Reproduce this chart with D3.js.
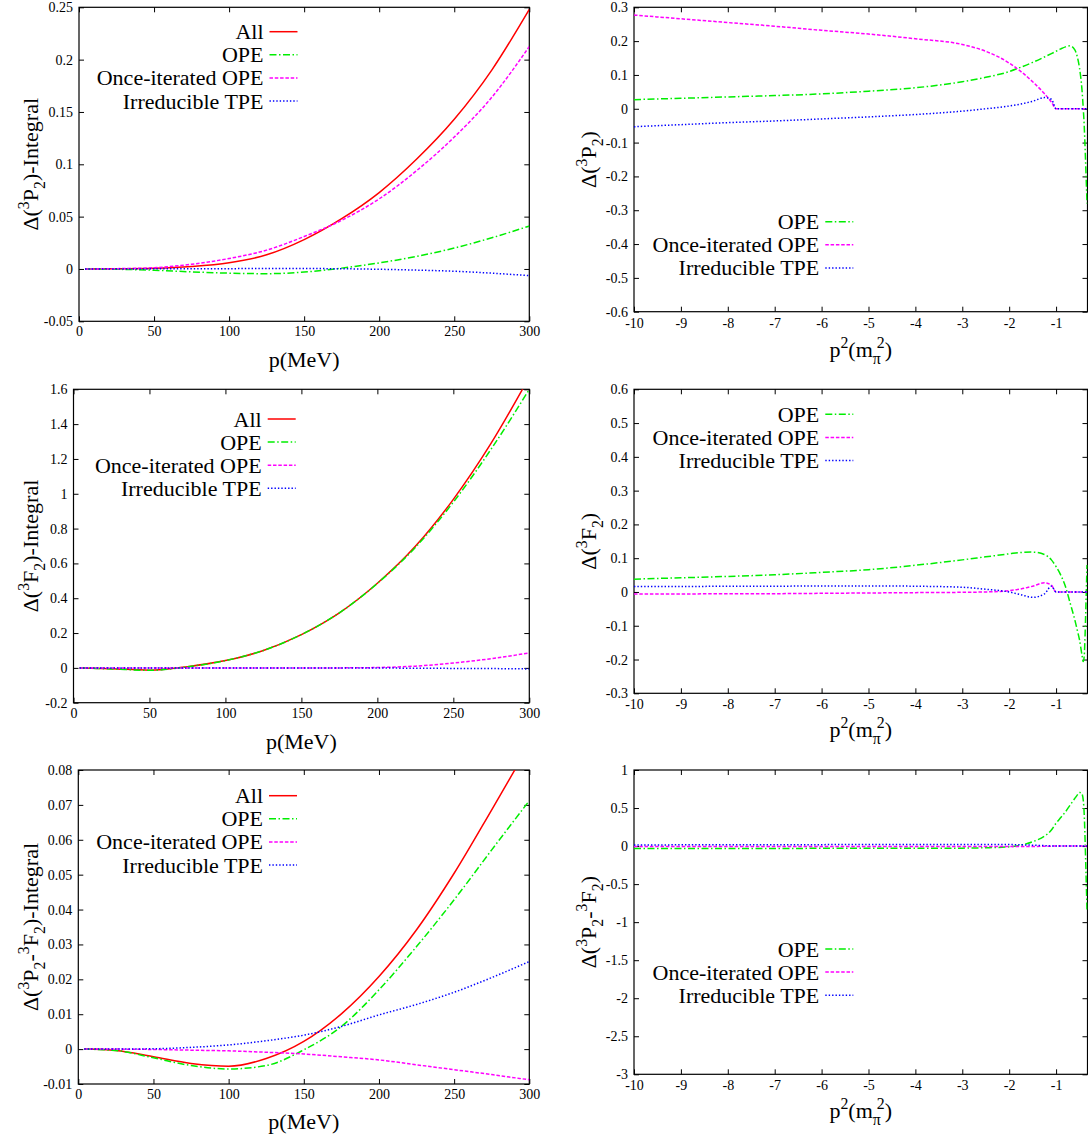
<!DOCTYPE html>
<html><head><meta charset="utf-8">
<script src="https://cdn.jsdelivr.net/npm/d3@7"></script>
<style>
body{margin:0;background:#fff;}
svg{display:block;}
svg text{font-family:"Liberation Serif","Times New Roman",Times,serif;}
</style></head><body>
<svg id="chart" width="1088" height="1142" font-family="Liberation Serif, Times New Roman, serif"></svg>
<script>
// ---------- DATA ----------
const pGrid = [4, 25, 50, 75, 100, 125, 150, 175, 200, 225, 250, 275, 300];
// Δ(3P2)-Integral
const p2IntAll  = [0, 0.0002, 0.0007, 0.0024, 0.0060, 0.0135, 0.0280, 0.0480, 0.0730, 0.1050, 0.1430, 0.1900, 0.2480];
const p2IntOPE  = [0, -0.0003, -0.0012, -0.0028, -0.0040, -0.0045, -0.0030, 0.0008, 0.0058, 0.0120, 0.0200, 0.0298, 0.0410];
const p2IntOnce = [0, 0.0003, 0.0012, 0.0045, 0.0100, 0.0180, 0.0310, 0.0465, 0.0670, 0.0940, 0.1260, 0.1640, 0.2125];
const p2IntIrr  = [0, 0, 0.0001, 0.0002, 0.0003, 0.0004, 0.0004, 0.0002, -0.0003, -0.0011, -0.0022, -0.0040, -0.0064];
// Δ(3F2)-Integral
const f2IntAll  = [0, -0.005, -0.013, 0.007, 0.042, 0.100, 0.191, 0.316, 0.486, 0.698, 0.968, 1.292, 1.670];
const f2IntOPE  = [0, -0.006, -0.014, 0.006, 0.042, 0.100, 0.191, 0.316, 0.485, 0.692, 0.952, 1.258, 1.600];
const f2IntOnce = [0, 0, -0.001, -0.001, -0.001, -0.001, 0, 0, 0.002, 0.010, 0.028, 0.053, 0.086];
const f2IntIrr  = [0, 0, 0, 0, 0, 0, -0.001, -0.001, -0.001, -0.002, -0.003, -0.004, -0.006];
// Δ(3P2-3F2)-Integral
const mixIntAll  = [0, -0.0004, -0.0022, -0.0041, -0.0049, -0.0027, 0.0022, 0.0101, 0.0208, 0.0342, 0.0504, 0.0686, 0.0872];
const mixIntOPE  = [0, -0.0004, -0.0025, -0.0047, -0.0057, -0.0047, -0.0002, 0.0065, 0.0170, 0.0294, 0.0428, 0.0571, 0.0712];
const mixIntOnce = [0, 0, -0.0001, -0.0003, -0.0005, -0.0009, -0.0014, -0.0022, -0.0031, -0.0045, -0.0059, -0.0073, -0.0088];
const mixIntIrr  = [0, 0, 0.0001, 0.0005, 0.0012, 0.0024, 0.0040, 0.0065, 0.0098, 0.0128, 0.0163, 0.0205, 0.0251];

const tGrid = [-10, -9, -8, -7, -6, -5, -4, -3, -2.5, -2, -1.75, -1.5, -1.25, -1.1, -1, -0.9, -0.8, -0.7, -0.6, -0.55, -0.5, -0.45, -0.42, -0.4, -0.38, -0.36, -0.34];
// Δ(3P2)
const p2OPE  = [0.027, 0.031, 0.035, 0.039, 0.044, 0.052, 0.062, 0.080, 0.093, 0.110, 0.123, 0.137, 0.153, 0.163, 0.170, 0.177, 0.183, 0.186, 0.174, 0.155, 0.120, 0.060, 0.000, -0.050, -0.120, -0.200, -0.280];
const p2Once = [0.277, 0.266, 0.255, 0.244, 0.232, 0.221, 0.207, 0.190, 0.170, 0.135, 0.110, 0.080, 0.045, 0.020, 0, 0, 0, 0, 0, 0, 0, 0, 0, 0, 0, 0, 0];
const p2Irr  = [-0.053, -0.047, -0.041, -0.036, -0.030, -0.024, -0.017, -0.007, 0.000, 0.008, 0.014, 0.022, 0.033, 0.028, 0, 0, 0, 0, 0, 0, 0, 0, 0, 0, 0, 0, 0];
// Δ(3F2)
const f2OPE  = [0.038, 0.042, 0.046, 0.051, 0.058, 0.066, 0.079, 0.095, 0.104, 0.113, 0.117, 0.118, 0.111, 0.095, 0.075, 0.050, 0.016, -0.033, -0.083, -0.112, -0.142, -0.185, -0.206, -0.190, -0.120, -0.020, 0.080];
const f2Once = [-0.006, -0.006, -0.005, -0.005, -0.004, -0.003, -0.002, -0.001, 0.000, 0.004, 0.009, 0.017, 0.027, 0.020, 0, 0, 0, 0, 0, 0, 0, 0, 0, 0, 0, 0, 0];
const f2Irr  = [0.016, 0.016, 0.017, 0.017, 0.018, 0.018, 0.017, 0.014, 0.008, 0.000, -0.008, -0.016, -0.006, 0.017, 0, 0, 0, 0, 0, 0, 0, 0, 0, 0, 0, 0, 0];
// Δ(3P2-3F2)
const mixOPE  = [-0.032, -0.032, -0.031, -0.031, -0.030, -0.030, -0.029, -0.027, -0.022, -0.010, 0.012, 0.057, 0.130, 0.210, 0.300, 0.375, 0.450, 0.540, 0.627, 0.670, 0.705, 0.690, 0.600, 0.420, 0.050, -0.400, -0.850];
const mixOnce = [-0.004, -0.004, -0.004, -0.004, -0.004, -0.004, -0.004, -0.004, -0.005, -0.006, -0.006, -0.005, -0.003, -0.001, 0, 0, 0, 0, 0, 0, 0, 0, 0, 0, 0, 0, 0];
const mixIrr  = [0.015, 0.016, 0.017, 0.018, 0.019, 0.020, 0.021, 0.022, 0.022, 0.020, 0.017, 0.012, 0.006, 0.002, 0, 0, 0, 0, 0, 0, 0, 0, 0, 0, 0, 0, 0];

// ticks
const xTicksP = [0, 50, 100, 150, 200, 250, 300];
const xTicksT = [-10, -9, -8, -7, -6, -5, -4, -3, -2, -1];
const yTicksP2Int = [-0.05, 0, 0.05, 0.1, 0.15, 0.2, 0.25];
const yTicksF2Int = [-0.2, 0, 0.2, 0.4, 0.6, 0.8, 1, 1.2, 1.4, 1.6];
const yTicksMixInt = [-0.01, 0, 0.01, 0.02, 0.03, 0.04, 0.05, 0.06, 0.07, 0.08];
const yTicksP2 = [-0.6, -0.5, -0.4, -0.3, -0.2, -0.1, 0, 0.1, 0.2, 0.3];
const yTicksF2 = [-0.3, -0.2, -0.1, 0, 0.1, 0.2, 0.3, 0.4, 0.5, 0.6];
const yTicksMix = [-3, -2.5, -2, -1.5, -1, -0.5, 0, 0.5, 1];

const legendNames = {All: "All", OPE: "OPE", Once: "Once-iterated OPE", Irr: "Irreducible TPE"};

// ---------- STYLE / LAYOUT ----------
const FONT = "Liberation Serif, Times New Roman, Times, serif";
const styles = {
  All:  {color: "#ff0000", dash: null},
  OPE:  {color: "#00ee00", dash: "7,2.5,1.5,2.5"},
  Once: {color: "#ff00ff", dash: "3.5,1.8"},
  Irr:  {color: "#0000ff", dash: "1.4,2"}
};

const labP2Int = [["Δ(", "n"], ["3", "sup"], ["P", "n"], ["2", "sub"], [")-Integral", "n"]];
const labF2Int = [["Δ(", "n"], ["3", "sup"], ["F", "n"], ["2", "sub"], [")-Integral", "n"]];
const labMixInt = [["Δ(", "n"], ["3", "sup"], ["P", "n"], ["2", "sub"], ["-", "n"], ["3", "sup"], ["F", "n"], ["2", "sub"], [")-Integral", "n"]];
const labP2 = [["Δ(", "n"], ["3", "sup"], ["P", "n"], ["2", "sub"], [")", "n"]];
const labF2 = [["Δ(", "n"], ["3", "sup"], ["F", "n"], ["2", "sub"], [")", "n"]];
const labMix = [["Δ(", "n"], ["3", "sup"], ["P", "n"], ["2", "sub"], ["-", "n"], ["3", "sup"], ["F", "n"], ["2", "sub"], [")", "n"]];
const labXP = [["p(MeV)", "n"]];
const labXT = [["p", "n"], ["2", "sup"], ["(m", "n"], ["π", "sub"], ["2", "sup", -4], [")", "n"]];

const panels = [
  {left: 79, right: 529.3, top: 7.3, bottom: 321.3, xDom: [0, 300], yDom: [-0.05, 0.25], xTicks: xTicksP, yTicks: yTicksP2Int, xs: pGrid,
   series: [["All", p2IntAll], ["OPE", p2IntOPE], ["Once", p2IntOnce], ["Irr", p2IntIrr]], legX: 263.5, legY: 31.7,
   ylab: labP2Int, ylabX: 38, xlab: labXP, xlabY: 367, padX: 5},
  {left: 73.5, right: 529.3, top: 389.3, bottom: 702.7, xDom: [0, 300], yDom: [-0.2, 1.6], xTicks: xTicksP, yTicks: yTicksF2Int, xs: pGrid,
   series: [["All", f2IntAll], ["OPE", f2IntOPE], ["Once", f2IntOnce], ["Irr", f2IntIrr]], legX: 261.7, legY: 419,
   ylab: labF2Int, ylabX: 38, xlab: labXP, xlabY: 749, padX: 5},
  {left: 78.3, right: 529.3, top: 770, bottom: 1084, xDom: [0, 300], yDom: [-0.01, 0.08], xTicks: xTicksP, yTicks: yTicksMixInt, xs: pGrid,
   series: [["All", mixIntAll], ["OPE", mixIntOPE], ["Once", mixIntOnce], ["Irr", mixIntIrr]], legX: 263, legY: 795.7,
   ylab: labMixInt, ylabX: 38, xlab: labXP, xlabY: 1129, padX: 5},
  {left: 634, right: 1087.5, top: 7.3, bottom: 311.7, xDom: [-10, -0.33], yDom: [-0.6, 0.3], xTicks: xTicksT, yTicks: yTicksP2, xs: tGrid,
   series: [["OPE", p2OPE], ["Once", p2Once], ["Irr", p2Irr]], legX: 819.3, legY: 221.7,
   ylab: labP2, ylabX: 596, xlab: labXT, xlabY: 357, padX: 6},
  {left: 634, right: 1087.5, top: 389.3, bottom: 693.3, xDom: [-10, -0.33], yDom: [-0.3, 0.6], xTicks: xTicksT, yTicks: yTicksF2, xs: tGrid,
   series: [["OPE", f2OPE], ["Once", f2Once], ["Irr", f2Irr]], legX: 819.3, legY: 414.3,
   ylab: labF2, ylabX: 596, xlab: labXT, xlabY: 737, padX: 6},
  {left: 634, right: 1087.5, top: 770, bottom: 1074.3, xDom: [-10, -0.33], yDom: [-3, 1], xTicks: xTicksT, yTicks: yTicksMix, xs: tGrid,
   series: [["OPE", mixOPE], ["Once", mixOnce], ["Irr", mixIrr]], legX: 819.3, legY: 949,
   ylab: labMix, ylabX: 596, xlab: labXT, xlabY: 1118, padX: 6}
];

const svg = d3.select("#chart");
const fmt = v => String(+v.toFixed(4));

function richText(sel, parts, size) {
  let cur = 0;
  parts.forEach(([txt, type, dx]) => {
    const target = type === "sup" ? -0.42 * size : type === "sub" ? 0.3 * size : 0;
    const ts = sel.append("tspan").text(txt).attr("dy", target - cur);
    if (type !== "n") ts.attr("font-size", size * 0.72);
    if (dx) ts.attr("dx", dx);
    cur = target;
  });
}

panels.forEach((P, i) => {
  const g = svg.append("g").attr("font-family", FONT);
  const x = d3.scaleLinear().domain(P.xDom).range([P.left, P.right]);
  const y = d3.scaleLinear().domain(P.yDom).range([P.bottom, P.top]);

  const clipId = "clip" + i;
  svg.append("clipPath").attr("id", clipId).append("rect")
    .attr("x", P.left).attr("y", P.top).attr("width", P.right - P.left).attr("height", P.bottom - P.top);

  const styleAxis = (sel) => {
    sel.attr("font-family", FONT).attr("font-size", 14);
    sel.select(".domain").remove();
    sel.selectAll(".tick line").attr("stroke", "#000");
    sel.selectAll(".tick text").attr("fill", "#000").attr("font-family", FONT);
  };

  g.append("g").attr("transform", `translate(0,${P.bottom})`)
    .call(d3.axisBottom(x).tickValues(P.xTicks).tickFormat(fmt).tickSizeInner(-5).tickSizeOuter(0).tickPadding(P.padX))
    .call(styleAxis);
  g.append("g").attr("transform", `translate(0,${P.top})`)
    .call(d3.axisTop(x).tickValues(P.xTicks).tickFormat("").tickSizeInner(-5).tickSizeOuter(0))
    .call(styleAxis);
  g.append("g").attr("transform", `translate(${P.left},0)`)
    .call(d3.axisLeft(y).tickValues(P.yTicks).tickFormat(fmt).tickSizeInner(-5).tickSizeOuter(0).tickPadding(6))
    .call(styleAxis);
  g.append("g").attr("transform", `translate(${P.right},0)`)
    .call(d3.axisRight(y).tickValues(P.yTicks).tickFormat("").tickSizeInner(-5).tickSizeOuter(0))
    .call(styleAxis);

  g.append("rect").attr("x", P.left).attr("y", P.top).attr("width", P.right - P.left).attr("height", P.bottom - P.top)
    .attr("fill", "none").attr("stroke", "#000").attr("stroke-width", 1.2);

  const line = d3.line().x((d, k) => x(P.xs[k])).y(d => y(d)).curve(d3.curveMonotoneX);
  const cg = g.append("g").attr("clip-path", `url(#${clipId})`);
  P.series.forEach(([key, vals]) => {
    cg.append("path").datum(vals).attr("d", line)
      .attr("fill", "none").attr("stroke", styles[key].color).attr("stroke-width", 1.5)
      .attr("stroke-dasharray", styles[key].dash);
  });

  // legend
  P.series.forEach(([key], k) => {
    const ly = P.legY + k * 23.1;
    g.append("text").attr("x", P.legX).attr("y", ly + 7.5).attr("text-anchor", "end")
      .attr("font-family", FONT).attr("font-size", 22).text(legendNames[key]);
    g.append("line").attr("x1", P.legX + 6).attr("x2", P.legX + 34).attr("y1", ly).attr("y2", ly)
      .attr("stroke", styles[key].color).attr("stroke-width", 1.5).attr("stroke-dasharray", styles[key].dash);
  });

  // y label
  const yl = g.append("text").attr("text-anchor", "middle").attr("font-size", 22).attr("font-family", FONT)
    .attr("transform", `translate(${P.ylabX},${(P.top + P.bottom) / 2}) rotate(-90)`);
  richText(yl, P.ylab, 22);

  // x label
  const xl = g.append("text").attr("text-anchor", "middle").attr("font-size", 22).attr("font-family", FONT)
    .attr("x", (P.left + P.right) / 2).attr("y", P.xlabY);
  richText(xl, P.xlab, 22);
});
</script>
</body></html>
